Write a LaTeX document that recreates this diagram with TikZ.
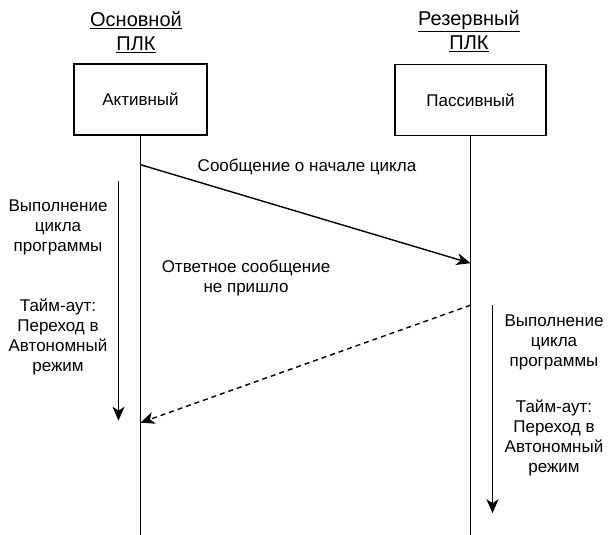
\documentclass[tikz,border=0pt]{standalone}
\usepackage{fontspec}
\setmainfont{Liberation Sans}
\usetikzlibrary{positioning,arrows.meta}

\begin{document}
\begin{tikzpicture}[x=1pt,y=-1pt,
   state/.style={draw,line width=1.4pt,minimum height=71pt,inner sep=0pt,
      font=\fontsize{17}{20}\selectfont},
   title/.style={align=center,font=\fontsize{20}{24}\selectfont},
   lbl/.style={align=center,font=\fontsize{17}{20}\selectfont},
   >={Stealth[length=14pt,width=12pt,inset=4pt]},
   msg/.style={->,line width=1.4pt},
   life/.style={line width=1.4pt}]

 \useasboundingbox (0,0) rectangle (608,535);
 \coordinate (bot) at (0,535);

 %plc titles
 \node[title] (tmain) at (136,32) {\underline{Основной}\\\underline{ПЛК}};
 \node[title] (tres)  at (469,31) {\underline{Резервный}\\\underline{ПЛК}};

 %states
 \node[state,minimum width=133pt] (act) at (140.5,99.5) {Активный};
 \node[state,minimum width=151pt] (pas) at (470.5,100) {Пассивный};

 %lifelines
 \draw[life] (act.south) -- (act.south |- bot);
 \draw[life] (pas.south) -- (pas.south |- bot);

 %message points
 \path (act.south) ++(0,29)  coordinate (m1s);
 \path (pas.south) ++(0,127) coordinate (m1e);
 \path (pas.south) ++(0,169) coordinate (m2s);
 \path (act.south) ++(0,287) coordinate (m2e);

 \draw[msg] (m1s) -- (m1e);
 \draw[msg,dash pattern=on 5pt off 4pt] (m2s) -- (m2e);

 \node[lbl] (lstart) at (307,167) {Сообщение о начале цикла};
 \node[lbl] (lnoans) at (246,278) {Ответное сообщение\\не пришло};

 %program cycle of the main plc
 \path (act.south) ++(-22,45)  coordinate (runAs);
 \path (act.south) ++(-22,285) coordinate (runAe);
 \draw[msg] (runAs) -- (runAe);
 \node[lbl] (cycA) at (58,227) {Выполнение\\цикла\\программы};
 \node[lbl] (toA)  at (58,337) {Тайм-аут:\\Переход в\\Автономный\\режим};

 %program cycle of the reserve plc
 \path (pas.south) ++(22,169) coordinate (runBs);
 \path (pas.south) ++(22,377) coordinate (runBe);
 \draw[msg] (runBs) -- (runBe);
 \node[lbl] (cycB) at (554,342) {Выполнение\\цикла\\программы};
 \node[lbl] (toB)  at (554,438) {Тайм-аут:\\Переход в\\Автономный\\режим};

\end{tikzpicture}
\end{document}
